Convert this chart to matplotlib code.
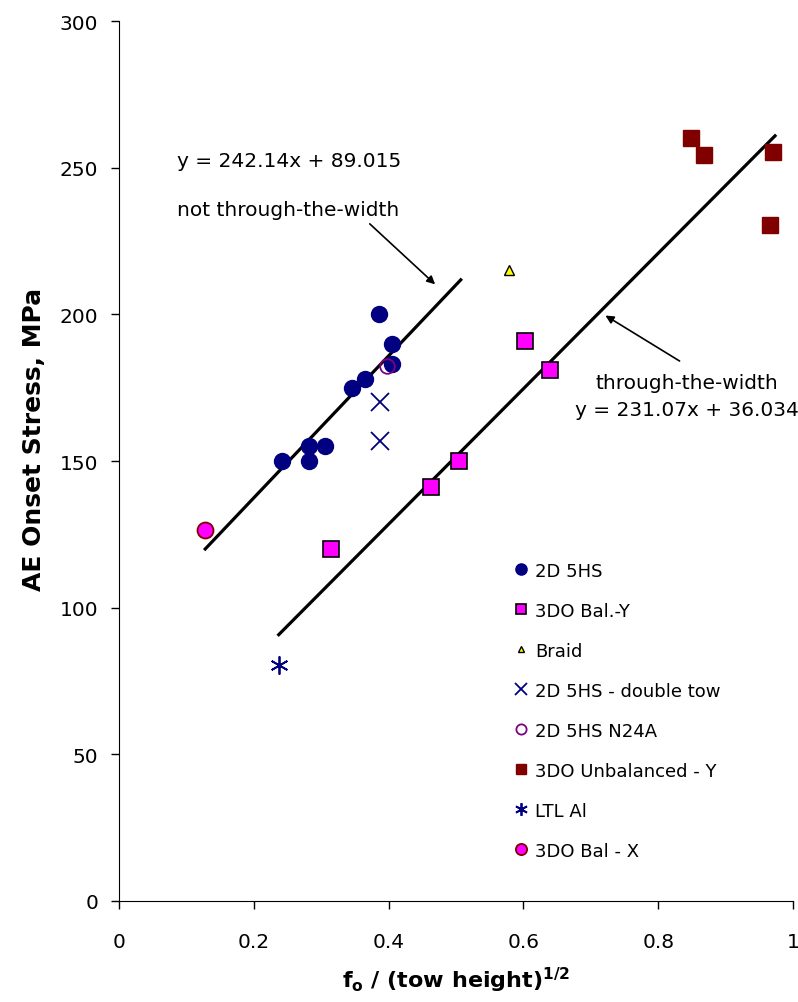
import matplotlib.pyplot as plt

plt.rcParams['font.family'] = ['DejaVu Sans']

# data
hs2d_x = [0.242, 0.282, 0.282, 0.305, 0.345, 0.365, 0.385, 0.405, 0.405]
hs2d_y = [150, 150, 155, 155, 175, 178, 200, 190, 183]
bal_y_x = [0.315, 0.463, 0.504, 0.602, 0.640]
bal_y_y = [120, 141, 150, 191, 181]
braid_x = [0.579]
braid_y = [215]
dbl_x = [0.387, 0.387]
dbl_y = [170, 157]
n24a_x = [0.398]
n24a_y = [182.5]
unbal_x = [0.849, 0.867, 0.970, 0.966]
unbal_y = [260, 254.5, 255.5, 230.5]
ltl_x = [0.238]
ltl_y = [80.5]
bal_x_x = [0.128]
bal_x_y = [126.5]

# regression fits
fit1 = (242.14, 89.015)
fit1_range = [0.128, 0.507]
fit2 = (231.07, 36.034)
fit2_range = [0.237, 0.973]

fig = plt.figure(figsize=(7.98, 10.03), dpi=100)
ax = fig.add_axes([0.149, 0.1007, 0.845, 0.8773])

ax.plot(fit1_range, [fit1[0]*x + fit1[1] for x in fit1_range], color='black', lw=2.3, zorder=2)
ax.plot(fit2_range, [fit2[0]*x + fit2[1] for x in fit2_range], color='black', lw=2.3, zorder=2)

ax.plot(hs2d_x, hs2d_y, 'o', color='#000080', ms=11.5, mec='#000080', ls='none', label='2D 5HS', zorder=3)
ax.plot(bal_y_x, bal_y_y, 's', color='#FF00FF', ms=11, mec='black', mew=1.2, ls='none', label='3DO Bal.-Y', zorder=3)
ax.plot(braid_x, braid_y, '^', color='#FFFF00', ms=7, mec='black', mew=1, ls='none', label='Braid', zorder=3)
ax.plot(dbl_x, dbl_y, 'x', color='#000080', ms=13, mew=1.3, ls='none', label='2D 5HS - double tow', zorder=3)
ax.plot(n24a_x, n24a_y, 'o', mfc='none', mec='#800080', ms=10.5, mew=1.3, ls='none', label='2D 5HS N24A', zorder=3)
ax.plot(unbal_x, unbal_y, 's', color='#800000', ms=11, mec='#800000', ls='none', label='3DO Unbalanced - Y', zorder=3)
ax.plot(ltl_x, ltl_y, marker=(6, 2, 0), color='#000080', ms=13, mew=1.3, ls='none', label='LTL Al', zorder=3)
ax.plot(bal_x_x, bal_x_y, 'o', color='#FF00FF', ms=11.5, mec='#800000', mew=1.3, ls='none', label='3DO Bal - X', zorder=3)

ax.set_xlim(0, 1)
ax.set_ylim(0, 300)
ax.set_xticks([0, 0.2, 0.4, 0.6, 0.8, 1])
ax.set_xticklabels(['0', '0.2', '0.4', '0.6', '0.8', '1'])
ax.set_yticks(range(0, 301, 50))
ax.tick_params(labelsize=14.5, length=6, width=1, direction='out')
ax.tick_params(axis='x', pad=16)
ax.tick_params(axis='y', pad=9)
ax.spines['top'].set_visible(False)
ax.spines['right'].set_visible(False)

ax.set_xlabel(r'f$_\mathregular{o}$ / (tow height)$^\mathregular{1/2}$', fontsize=16, fontweight='bold', va='center')
ax.xaxis.set_label_coords(0.5, -0.0886)
ax.set_ylabel('AE Onset Stress, MPa', fontsize=18, fontweight='bold', va='center')
ax.yaxis.set_label_coords(-0.126, 0.526)

# annotations
ax.text(0.086, 252.6, 'y = 242.14x + 89.015', fontsize=14.5, ha='left', va='center')
ax.text(0.086, 235.9, 'not through-the-width', fontsize=14.5, ha='left', va='center')
ax.annotate('', xy=(0.472, 209.6), xytext=(0.369, 231.5),
            arrowprops=dict(arrowstyle='-|>', color='black', lw=1.2, mutation_scale=12))
ax.text(0.843, 176.9, 'through-the-width', fontsize=14.5, ha='center', va='center')
ax.text(0.843, 167.7, 'y = 231.07x + 36.034', fontsize=14.5, ha='center', va='center')
ax.annotate('', xy=(0.718, 200.1), xytext=(0.835, 183.6),
            arrowprops=dict(arrowstyle='-|>', color='black', lw=1.2, mutation_scale=12))

ax.legend(loc='upper left', bbox_to_anchor=(0.5745, 0.394), frameon=False, fontsize=13,
          markerscale=0.7, handlelength=0.8, handletextpad=0.4, labelspacing=1.22,
          borderaxespad=0)

fig.savefig('out.png', dpi=100)
